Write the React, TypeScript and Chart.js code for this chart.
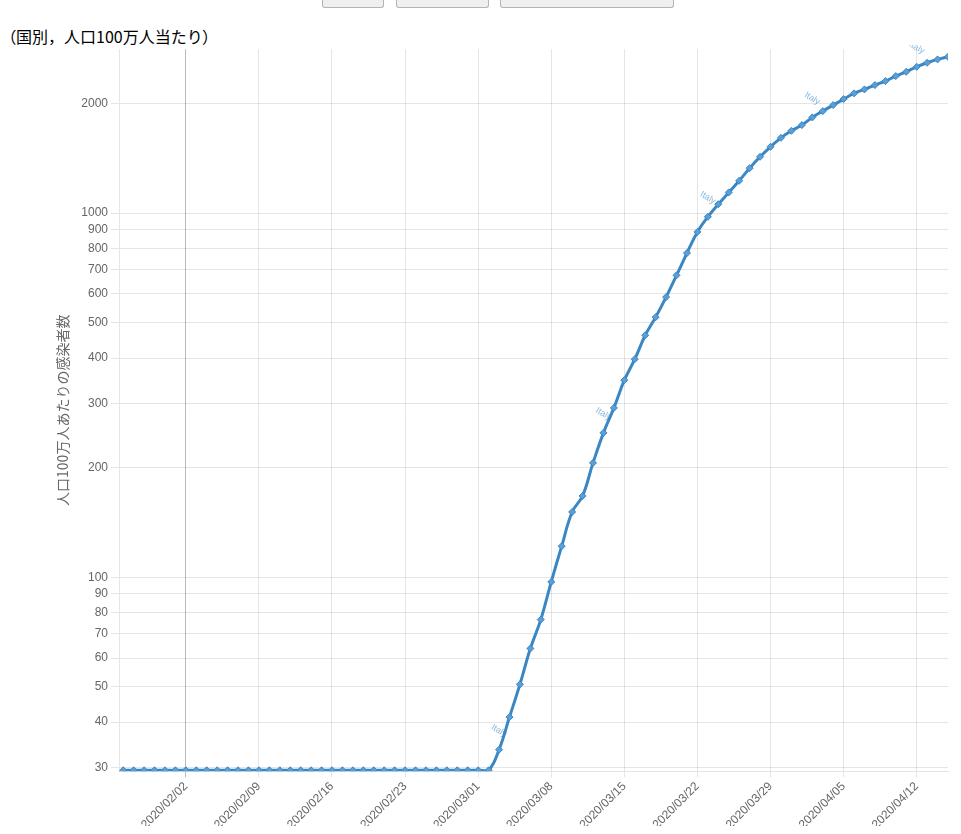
import React, { useEffect, useRef } from 'react';
import { Chart, registerables } from 'chart.js';

Chart.register(...registerables);

const dates = [
  '2020/01/27', '2020/01/28', '2020/01/29', '2020/01/30', '2020/01/31',
  '2020/02/01', '2020/02/02', '2020/02/03', '2020/02/04', '2020/02/05',
  '2020/02/06', '2020/02/07', '2020/02/08', '2020/02/09', '2020/02/10',
  '2020/02/11', '2020/02/12', '2020/02/13', '2020/02/14', '2020/02/15',
  '2020/02/16', '2020/02/17', '2020/02/18', '2020/02/19', '2020/02/20',
  '2020/02/21', '2020/02/22', '2020/02/23', '2020/02/24', '2020/02/25',
  '2020/02/26', '2020/02/27', '2020/02/28', '2020/02/29', '2020/03/01',
  '2020/03/02', '2020/03/03', '2020/03/04', '2020/03/05', '2020/03/06',
  '2020/03/07', '2020/03/08', '2020/03/09', '2020/03/10', '2020/03/11',
  '2020/03/12', '2020/03/13', '2020/03/14', '2020/03/15', '2020/03/16',
  '2020/03/17', '2020/03/18', '2020/03/19', '2020/03/20', '2020/03/21',
  '2020/03/22', '2020/03/23', '2020/03/24', '2020/03/25', '2020/03/26',
  '2020/03/27', '2020/03/28', '2020/03/29', '2020/03/30', '2020/03/31',
  '2020/04/01', '2020/04/02', '2020/04/03', '2020/04/04', '2020/04/05',
  '2020/04/06', '2020/04/07', '2020/04/08', '2020/04/09', '2020/04/10',
  '2020/04/11', '2020/04/12', '2020/04/13', '2020/04/14', '2020/04/15',
];

const italy = [
  29.5, 29.5, 29.5, 29.5, 29.5, 29.5, 29.5, 29.5, 29.5, 29.5,
  29.5, 29.5, 29.5, 29.5, 29.5, 29.5, 29.5, 29.5, 29.5, 29.5,
  29.5, 29.5, 29.5, 29.5, 29.5, 29.5, 29.5, 29.5, 29.5, 29.5,
  29.5, 29.5, 29.5, 29.5, 29.5, 29.5,
  33.6, 41.3, 50.8, 63.7, 76.5, 97.1, 121.7, 151.1, 167.2, 206.1,
  249.2, 291.8, 347.7, 397, 462, 518, 588, 675, 777, 888,
  977, 1058, 1140, 1227, 1329, 1428, 1521, 1610, 1683, 1745,
  1832, 1906, 1980, 2057, 2133, 2187, 2247, 2305, 2379, 2445,
  2523, 2588, 2644, 2688,
];

const seriesName = 'Italy';
const yTickValues = [30, 40, 50, 60, 70, 80, 90, 100, 200, 300, 400, 500, 600, 700, 800, 900, 1000, 2000];
const xTickDates = [
  '2020/02/02', '2020/02/09', '2020/02/16', '2020/02/23', '2020/03/01', '2020/03/08',
  '2020/03/15', '2020/03/22', '2020/03/29', '2020/04/05', '2020/04/12',
];
const highlightDate = '2020/02/02';
const labelDates = ['2020/03/03', '2020/03/13', '2020/03/23', '2020/04/02', '2020/04/12'];
const yMin = 29.3;
const yMax = 2820;
const titleOpen = '（';
const titleBody = '国別，人口100万人当たり';
const titleClose = '）';
const yAxisTitle = '人口100万人あたりの感染者数';

const LINE = '#3a87c4';
const POINT_FILL = '#5b9fd6';
const LABEL_COLOR = 'rgba(58,135,196,0.6)';
const FONT = 'Arial, "Liberation Sans", Helvetica, sans-serif';

const lineLabelPlugin = {
  id: 'lineLabels',
  afterDatasetsDraw(chart: any) {
    const meta = chart.getDatasetMeta(0);
    const ctx = chart.ctx;
    const ca = chart.chartArea;
    ctx.save();
    ctx.beginPath();
    ctx.rect(0, ca.top - 4, chart.width, chart.height);
    ctx.clip();
    ctx.font = '9px ' + FONT;
    ctx.fillStyle = LABEL_COLOR;
    ctx.textAlign = 'center';
    ctx.textBaseline = 'middle';
    labelDates.forEach((d) => {
      const i = dates.indexOf(d);
      const el = meta.data[i];
      if (!el) return;
      ctx.save();
      ctx.translate(el.x, el.y - 19);
      ctx.rotate(Math.PI / 6);
      ctx.fillText(seriesName, 0, 0);
      ctx.restore();
    });
    ctx.restore();
  },
};

function ChartView() {
  const ref = useRef<HTMLCanvasElement | null>(null);
  useEffect(() => {
    if (!ref.current) return;
    const chart = new Chart(ref.current, {
      type: 'line',
      data: {
        datasets: [
          {
            label: seriesName,
            data: italy.map((v, i) => ({ x: i, y: v })),
            borderColor: LINE,
            borderWidth: 3,
            tension: 0.4,
            fill: false,
            pointStyle: 'rectRot',
            pointRadius: 3.5,
            pointBackgroundColor: POINT_FILL,
            pointBorderColor: LINE,
            pointBorderWidth: 1,
          },
        ],
      },
      options: {
        animation: false,
        responsive: true,
        maintainAspectRatio: false,
        layout: { padding: { left: 0, right: 5, top: 0, bottom: 0 } },
        plugins: {
          legend: { display: false },
          tooltip: { enabled: false },
        },
        scales: {
          x: {
            type: 'linear',
            min: -0.4,
            max: 79,
            afterBuildTicks: (s: any) => {
              s.ticks = xTickDates.map((d) => ({ value: dates.indexOf(d) }));
            },
            ticks: {
              callback: (v: any) => dates[v as number],
              minRotation: 45,
              maxRotation: 45,
              autoSkip: false,
              padding: 2,
              color: '#666',
              font: { size: 12, family: FONT },
            },
            grid: {
              tickLength: 6,
              color: (c: any) =>
                c.tick && dates[c.tick.value] === highlightDate ? 'rgba(0,0,0,0.27)' : 'rgba(0,0,0,0.1)',
            },
          },
          y: {
            type: 'logarithmic',
            min: yMin,
            max: yMax,
            afterBuildTicks: (s: any) => {
              s.ticks = yTickValues.map((v) => ({ value: v }));
            },
            afterFit: (s: any) => {
              s.width = 111;
            },
            ticks: {
              callback: (v: any) => String(v),
              autoSkip: false,
              color: '#666',
              font: { size: 12, family: FONT },
            },
            grid: { color: 'rgba(0,0,0,0.1)' },
            title: {
              display: true,
              text: yAxisTitle,
              color: '#666',
              font: { size: 14, family: '"Noto Sans CJK JP", sans-serif' },
              padding: { top: 46, bottom: 0 },
            },
          },
        },
      },
      plugins: [lineLabelPlugin],
    });
    return () => chart.destroy();
  }, []);
  return <canvas ref={ref} />;
}

const btn: React.CSSProperties = {
  position: 'fixed',
  top: 0,
  height: 8,
  boxSizing: 'border-box',
  background: '#efefef',
  border: '1px solid #b4b4b4',
  borderTop: 'none',
  borderRadius: '0 0 3px 3px',
  zIndex: 5,
};

const palt: React.CSSProperties = { fontFeatureSettings: '"palt"' };

export default function App() {
  return (
    <div style={{ position: 'relative', height: 818 }}>
      <div style={{ ...btn, left: 322, width: 62 }} />
      <div style={{ ...btn, left: 396, width: 93 }} />
      <div style={{ ...btn, left: 500, width: 174 }} />
      <div
        style={{
          position: 'absolute',
          top: 18,
          left: 0,
          fontSize: 16,
          lineHeight: '20px',
          fontFamily: '"Noto Sans CJK JP", sans-serif',
          color: '#000',
          whiteSpace: 'nowrap',
        }}
      >
        <span style={palt}>{titleOpen}</span>
        {titleBody}
        <span style={palt}>{titleClose}</span>
      </div>
      <div style={{ position: 'absolute', top: 31, left: 0, width: 945, height: 795 }}>
        <ChartView />
      </div>
    </div>
  );
}
